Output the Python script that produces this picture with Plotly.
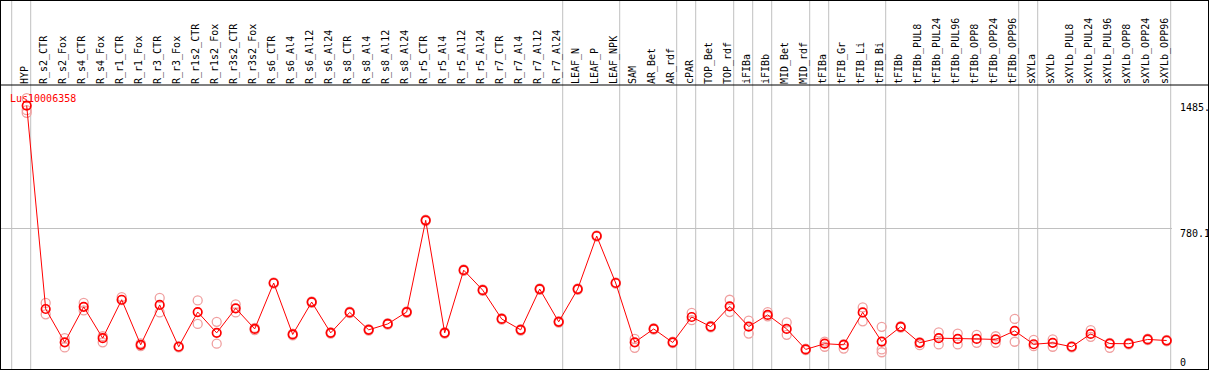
import plotly.graph_objects as go

categories = [
    "HYP",
    "R_s2_CTR", "R_s2_Fox", "R_s4_CTR", "R_s4_Fox", "R_r1_CTR", "R_r1_Fox",
    "R_r3_CTR", "R_r3_Fox", "R_r1s2_CTR", "R_r1s2_Fox", "R_r3s2_CTR", "R_r3s2_Fox",
    "R_s6_CTR", "R_s6_Al4", "R_s6_Al12", "R_s6_Al24", "R_s8_CTR", "R_s8_Al4",
    "R_s8_Al12", "R_s8_Al24", "R_r5_CTR", "R_r5_Al4", "R_r5_Al12", "R_r5_Al24",
    "R_r7_CTR", "R_r7_Al4", "R_r7_Al12", "R_r7_Al24",
    "LEAF_N", "LEAF_P", "LEAF_NPK",
    "SAM", "AR_Bet", "AR_rdf", "cPAR", "TOP_Bet", "TOP_rdf", "iFIBa", "iFIBb",
    "MID_Bet", "MID_rdf", "tFIBa", "tFIB_Gr", "tFIB_Li", "tFIB_Bi", "tFIBb",
    "tFIBb_PUL8", "tFIBb_PUL24", "tFIBb_PUL96", "tFIBb_OPP8", "tFIBb_OPP24", "tFIBb_OPP96",
    "sXYLa", "sXYLb", "sXYLb_PUL8", "sXYLb_PUL24", "sXYLb_PUL96", "sXYLb_OPP8",
    "sXYLb_OPP24", "sXYLb_OPP96",
]

means = [
    1470,
    328, 141, 340, 164, 380, 127, 351, 116, 311, 194, 332, 216, 474, 185,
    367, 194, 309, 211, 244, 311, 826, 194, 546, 434, 272, 211, 440, 256,
    440, 738, 474,
    141, 216, 140, 283, 229, 343, 229, 295, 216, 101, 133, 127, 309, 145, 228,
    138, 164, 160, 160, 157, 205, 130, 138, 116, 188, 134, 133, 157, 151,
]

rep_hi = [
    1513,
    362, 164, 362, 175, 395, 135, 390, 120, 376, 256, 354, 222, 478, 190,
    371, 198, 313, 215, 248, 315, 830, 198, 550, 438, 276, 215, 444, 260,
    444, 742, 478,
    160, 220, 144, 306, 233, 380, 263, 311, 253, 105, 145, 131, 337, 228, 232,
    142, 197, 190, 183, 175, 272, 155, 157, 120, 209, 138, 137, 161, 155,
]

rep_lo = [
    1445,
    298, 112, 320, 141, 378, 120, 309, 112, 244, 133, 309, 210, 470, 180,
    363, 190, 305, 207, 240, 307, 822, 190, 542, 430, 268, 207, 436, 252,
    436, 734, 470,
    110, 212, 136, 265, 225, 311, 190, 287, 183, 97, 116, 106, 259, 101, 224,
    125, 129, 129, 138, 138, 144, 119, 116, 112, 172, 110, 129, 153, 147,
]

rep_extra = {"HYP": 1430, "tFIB_Bi": 85}

group_ends = ["HYP", "R_r7_Al24", "LEAF_NPK", "AR_rdf", "cPAR", "TOP_rdf", "iFIBa",
              "iFIBb", "MID_rdf", "tFIBa", "tFIB_Bi", "tFIBb_OPP96", "sXYLa", "sXYLb_OPP96"]

gene = "Lus10006358"
y_label_vals = [1485, 780.1, 0]
y_label_text = ["1485.", "780.1", "0"]
grid_val = 780.1

W, H = 1209, 370
FONT = "DejaVu Sans Mono"
RED = "#ff0000"
PINK = "#f0a0a0"
GRAY = "#c0c0c0"

idx = list(range(len(categories)))

fig = go.Figure()

for reps in (rep_hi, rep_lo):
    fig.add_trace(go.Scatter(
        x=idx, y=reps, mode="markers", hoverinfo="skip", showlegend=False,
        marker=dict(symbol="circle-open", size=9, color=PINK, line=dict(width=1.3, color=PINK)),
    ))

fig.add_trace(go.Scatter(
    x=[categories.index(k) for k in rep_extra], y=list(rep_extra.values()),
    mode="markers", hoverinfo="skip", showlegend=False,
    marker=dict(symbol="circle-open", size=9, color=PINK, line=dict(width=1.3, color=PINK)),
))

fig.add_trace(go.Scatter(
    x=idx, y=means, mode="lines+markers", showlegend=False, name=gene,
    line=dict(color=RED, width=1),
    marker=dict(symbol="circle-open", size=8.5, color=RED, line=dict(width=1.7, color=RED)),
))

# layout geometry (pixels)
plot_left, plot_right = 1, 1172
plot_top, plot_bottom = 85, 367.4
first_center, step = 26.7, 19.0
x0 = -(first_center - plot_left) / step
x1 = (plot_right - first_center) / step
units_per_px = (1485 - 780.1) / (228.5 - 103)
y_top = (plot_bottom - plot_top) * units_per_px

shapes = []
sep_offset = 4 / step
for xv in [-1 + sep_offset] + [categories.index(n) + sep_offset for n in group_ends]:
    shapes.append(dict(type="line", xref="x", yref="paper", x0=xv, x1=xv, y0=0, y1=1,
                       line=dict(color=GRAY, width=1), layer="below"))
shapes.append(dict(type="rect", xref="paper", yref="paper", x0=0, x1=1, y0=0, y1=1,
                   line=dict(color="black", width=2)))
shapes.append(dict(type="line", xref="paper", yref="paper", x0=0, x1=1,
                   y0=1 - plot_top / H, y1=1 - plot_top / H,
                   line=dict(color="black", width=1)))

annotations = [dict(text=gene, xref="paper", yref="paper", x=8 / W, y=1 - 91 / H,
                    xanchor="left", yanchor="top", showarrow=False,
                    font=dict(family=FONT, size=10, color=RED))]
for v, t in zip(y_label_vals, y_label_text):
    annotations.append(dict(text=t, xref="paper", yref="y", x=1178 / W, y=v,
                            xanchor="left", yanchor="bottom" if v == 0 else "top",
                            yshift=-3 if v == 0 else 3,
                            showarrow=False, font=dict(family=FONT, size=10, color="black")))

fig.update_layout(
    width=W, height=H, margin=dict(l=0, r=0, t=0, b=0, pad=0),
    paper_bgcolor="white", plot_bgcolor="white",
    font=dict(family=FONT, size=10, color="black"),
    shapes=shapes, annotations=annotations,
    xaxis=dict(domain=[plot_left / W, plot_right / W], range=[x0, x1],
               tickmode="array", tickvals=idx, ticktext=categories,
               side="top", tickangle=-90, ticks="", showgrid=False, zeroline=False,
               showline=False, automargin=False, ticklabelshift=-2,
               tickfont=dict(family=FONT, size=10, color="black")),
    yaxis=dict(domain=[1 - plot_bottom / H, 1 - plot_top / H], range=[0, y_top],
               tickmode="array", tickvals=[grid_val], showticklabels=False,
               showgrid=True, gridcolor=GRAY, gridwidth=1, zeroline=False,
               showline=False, automargin=False),
)

fig.write_html("out.html", config={"displayModeBar": False},
               post_script="document.body.style.margin='0px';document.body.style.overflow='hidden';")
